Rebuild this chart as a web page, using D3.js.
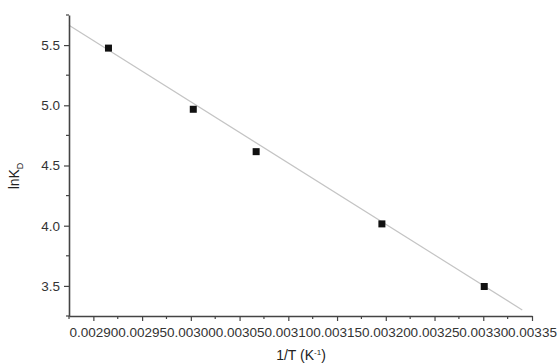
<!DOCTYPE html>
<html>
<head>
<meta charset="utf-8">
<script src="https://cdn.jsdelivr.net/npm/d3@7/dist/d3.min.js"></script>
<style>
  body { margin: 0; background: #fff; }
  svg { font-family: "Liberation Sans", Arial, sans-serif; }
</style>
</head>
<body>
<svg></svg>
<script>
// measured points (1/T vs lnKD)
var invT = [0.0029155, 0.0030025, 0.003067, 0.003196, 0.003301];
var lnKD = [5.475, 4.967, 4.615, 4.015, 3.495];
// fitted line ends
var fitX = [0.002875, 0.00334];
var fitY = [5.665, 3.30];
var xTicks = [0.00290, 0.00295, 0.00300, 0.00305, 0.00310, 0.00315, 0.00320, 0.00325, 0.00330, 0.00335];
var xMinor = [0.002875, 0.002925, 0.002975, 0.003025, 0.003075, 0.003125, 0.003175, 0.003225, 0.003275, 0.003325];
var yTicks = [3.5, 4.0, 4.5, 5.0, 5.5];
var yMinor = [3.25, 3.75, 4.25, 4.75, 5.25, 5.75];

var W = 557, H = 364;
var padL = 69, padR = 532, padT = 15, padB = 316;

var svg = d3.select("svg").attr("width", W).attr("height", H);

var x = d3.scaleLinear().domain([0.002875, 0.00335]).range([padL, padR]);
var y = d3.scaleLinear().domain([3.25, 5.75]).range([padB, padT]);

var axisCol = "#444";

// fit line
svg.append("line")
  .attr("x1", x(fitX[0])).attr("y1", y(fitY[0]))
  .attr("x2", x(fitX[1])).attr("y2", y(fitY[1]))
  .attr("stroke", "#c4c4c4").attr("stroke-width", 1.2);

// x axis
var gx = svg.append("g").attr("transform", "translate(0," + padB + ")");
gx.call(d3.axisBottom(x).tickValues(xTicks).tickFormat(d3.format(".5f")).tickSize(5).tickSizeOuter(0));
gx.append("g").selectAll("line").data(xMinor).enter().append("line")
  .attr("x1", function(d){return x(d);}).attr("x2", function(d){return x(d);})
  .attr("y1", 0).attr("y2", 3).attr("stroke", axisCol).attr("stroke-width", 1.2);

// y axis
var gy = svg.append("g").attr("transform", "translate(" + padL + ",0)");
gy.call(d3.axisLeft(y).tickValues(yTicks).tickFormat(d3.format(".1f")).tickSize(5).tickSizeOuter(0));
gy.append("g").selectAll("line").data(yMinor).enter().append("line")
  .attr("y1", function(d){return y(d);}).attr("y2", function(d){return y(d);})
  .attr("x1", 0).attr("x2", -3).attr("stroke", axisCol).attr("stroke-width", 1.2);

svg.selectAll(".domain").attr("stroke", axisCol).attr("stroke-width", 1.6);
svg.selectAll(".tick line").attr("stroke", axisCol).attr("stroke-width", 1.2);
svg.selectAll(".tick text").attr("fill", "#333").style("font-size", "13.5px")
  .style("font-family", "Liberation Sans, Arial, sans-serif");
gx.selectAll(".tick text").attr("dy", "0.9em").attr("y", 9);
gy.selectAll(".tick text").attr("x", -9);

// points
svg.append("g").selectAll("rect").data(invT).enter().append("rect")
  .attr("x", function(d){return x(d) - 3.5;})
  .attr("y", function(d, i){return y(lnKD[i]) - 3.5;})
  .attr("width", 7).attr("height", 7).attr("fill", "#111");

// axis titles
var xl = svg.append("text").attr("x", 301).attr("y", 360)
  .attr("text-anchor", "middle").attr("fill", "#222").style("font-size", "14px");
xl.append("tspan").text("1/T (K");
xl.append("tspan").attr("dy", -5).style("font-size", "8px").text("-1");
xl.append("tspan").attr("dy", 5).text(")");

var yl = svg.append("text").attr("transform", "translate(19,176) rotate(-90)")
  .attr("text-anchor", "middle").attr("fill", "#222").style("font-size", "14px");
yl.append("tspan").text("lnK");
yl.append("tspan").attr("dy", 4).style("font-size", "9px").text("D");
</script>
</body>
</html>
